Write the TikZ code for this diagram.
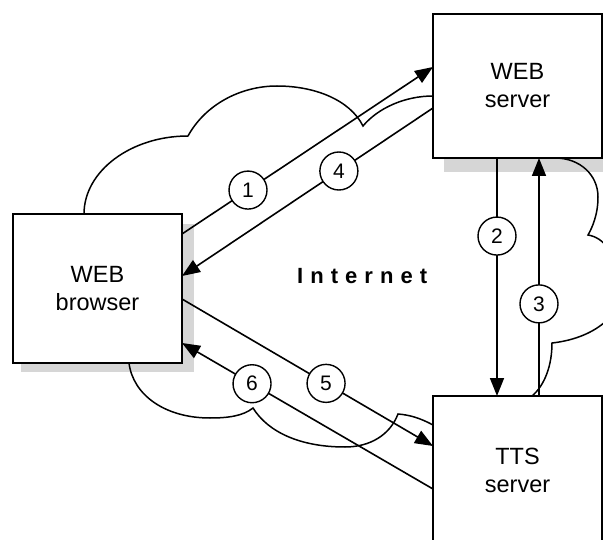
\documentclass[tikz,border=0pt]{standalone}
\usepackage{fontspec}
\setmainfont{Liberation Sans}
\newfontfamily\spacedfont[LetterSpace=32]{Liberation Sans}
\usetikzlibrary{arrows.meta,calc}
\definecolor{shadowgray}{RGB}{214,214,214}
\begin{document}
\begin{tikzpicture}[x=1pt,y=-1pt,
  box/.style={draw,line width=1.8pt,fill=white,minimum width=169pt,align=center,
    font=\fontsize{23.5}{28}\selectfont,inner sep=0,outer sep=0},
  conn/.style={line width=1.6pt},
  arr/.style={conn,-{Triangle[length=18pt,width=14pt]}},
  num/.style={circle,draw,line width=1.4pt,fill=white,minimum size=38pt,inner sep=0,
    font=\fontsize{21}{22}\selectfont},
  cloudline/.style={line width=1.5pt}
]
\useasboundingbox (0,0) rectangle (603,540);
\clip (0,0) rectangle (603,540);
% shadows
\fill[shadowgray] (21,224) rectangle (194,372);
\fill[shadowgray] (444,158) rectangle (610,172);
% cloud
\draw[cloudline] (84,214) .. controls (84,171) and (131,136) .. (188,136)
  .. controls (205,105) and (240,86) .. (277,86)
  .. controls (315,86) and (350,100) .. (363,126)
  .. controls (378,108) and (405,96) .. (433,96)
  -- (555,158)
  .. controls (580,158) and (598,175) .. (598,197)
  .. controls (598,215) and (592,228) .. (588,235)
  .. controls (620,240) and (630,300) .. (605,322)
  .. controls (590,335) and (570,341) .. (552,343)
  .. controls (552,365) and (545,385) .. (532,396)
  -- (433,425)
  .. controls (420,418) and (410,415) .. (398,414)
  .. controls (390,435) and (370,447) .. (345,447)
  .. controls (300,447) and (268,432) .. (253,408)
  .. controls (243,416) and (228,418) .. (210,418)
  .. controls (165,418) and (133,395) .. (129,363)
  -- cycle;
% boxes
\node[box,minimum height=144pt] (websrv) at (517.5,86) {WEB\\server};
\node[box,minimum height=149pt] (browser) at (97.5,288.5) {WEB\\browser};
\node[box,minimum height=148pt] (tts) at (517.5,470) {TTS\\server};
% connectors
\draw[arr] ([yshift=-20pt]browser.north east) -- node[num,pos=0.263] (n1) {1} ([yshift=-53pt]websrv.north west);
\draw[arr] ([yshift=-94pt]websrv.north west) -- node[num,pos=0.375] (n4) {4} ([yshift=-62pt]browser.north east);
\draw[arr] ([xshift=64pt]websrv.south west) -- node[num,pos=0.328] (n2) {2} ([xshift=64pt]tts.north west);
\draw[arr] ([xshift=106pt]tts.north west) -- node[num,pos=0.387] (n3) {3} ([xshift=106pt]websrv.south west);
\draw[arr] ([yshift=-85pt]browser.north east) -- node[num,pos=0.574] (n5) {5} ([yshift=-50pt]tts.north west);
\draw[arr] ([yshift=-93pt]tts.north west) -- node[num,pos=0.721] (n6) {6} ([yshift=-129pt]browser.north east);
% label
\node[anchor=base west,inner sep=0,font=\spacedfont\fontsize{22}{24}\selectfont\bfseries] (inet) at (297,284) {Internet};
\end{tikzpicture}
\end{document}
